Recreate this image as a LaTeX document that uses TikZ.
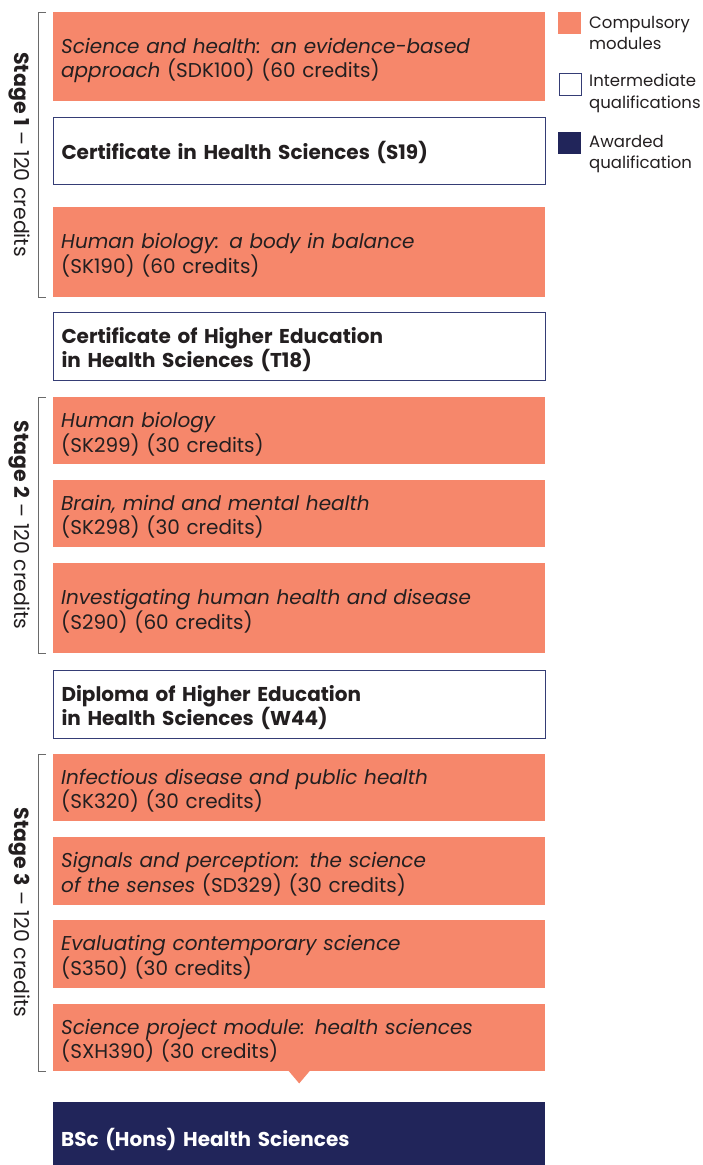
\documentclass[tikz,border=0pt]{standalone}
\usepackage{fontspec}
\setmainfont{Poppins}
\usetikzlibrary{calc}
\definecolor{modOrange}{HTML}{F6876B}
\definecolor{awardNavy}{HTML}{21255A}
\definecolor{qualEdge}{HTML}{353D75}
\definecolor{textDark}{HTML}{231F20}
\definecolor{bracketGrey}{HTML}{6A6A6A}

\begin{document}
\begin{tikzpicture}
[x=1pt,y=-1pt,
  boxDecorate/.style={anchor=north west,minimum width=492pt,text width=476pt,
    inner xsep=8pt,inner ysep=0pt,align=left,text=textDark,
    execute at begin node={\rule{0pt}{22pt}},
    font=\fontsize{20}{24}\selectfont},%
  moduleDecorate/.style={boxDecorate,fill=modOrange},%
  qualDecorate/.style={boxDecorate,draw=qualEdge,line width=1pt,fill=white,
    font=\fontsize{20}{24}\selectfont\bfseries},%
  awardDecorate/.style={boxDecorate,fill=awardNavy,text=white,
    font=\fontsize{20}{24}\selectfont\bfseries},%
  bracketDecorate/.style={draw=bracketGrey,line width=0.9pt},%
  keyDecorate/.style={anchor=north west,minimum width=23pt,minimum height=22pt,inner sep=0pt},%
  keyText/.style={anchor=west,align=left,inner sep=0pt,text=textDark,
    font=\fontsize{16.5}{21.5}\selectfont}]
\clip (0,0) rectangle (703,1165);
%% compulsory modules
\foreach \nodename/\y/\h/\txt in {
  sdk100/12/89/{\textit{Science and health: an evidence-based}\\\textit{approach} (SDK100) (60 credits)},
  sk190/207/90/{\textit{Human biology: a body in balance}\\(SK190) (60 credits)},
  sk299/397/67/{\textit{Human biology}\\(SK299) (30 credits)},
  sk298/480/67/{\textit{Brain, mind and mental health}\\(SK298) (30 credits)},
  s290/563/90/{\textit{Investigating human health and disease}\\(S290) (60 credits)},
  sk320/754/67/{\textit{Infectious disease and public health}\\(SK320) (30 credits)},
  sd329/837/68/{\textit{Signals and perception: the science}\\\textit{of the senses} (SD329) (30 credits)},
  s350/920/68/{\textit{Evaluating contemporary science}\\(S350) (30 credits)},
  sxh390/1004/67/{\textit{Science project module: health sciences}\\(SXH390) (30 credits)}}
{
  \node (\nodename) at (53,\y) [moduleDecorate,minimum height=\h pt] {\txt};
}
%% intermediate and awarded qualifications
\node (s19) at (53,117) [qualDecorate,minimum height=67pt] {Certificate in Health Sciences (S19)};
\node (t18) at (53,312) [qualDecorate,minimum height=68pt] {Certificate of Higher Education\\in Health Sciences (T18)};
\node (w44) at (53,670) [qualDecorate,minimum height=68pt] {Diploma of Higher Education\\in Health Sciences (W44)};
\node (bsc) at (53,1102) [awardDecorate,minimum height=70pt] {BSc (Hons) Health Sciences};
%% pointer into the award
\fill[modOrange] ($(sxh390.south)+(-11,-1)$) -- ($(sxh390.south)+(0,12)$)
  -- ($(sxh390.south)+(11,-1)$) -- cycle;
%% stage brackets
\foreach \first/\last/\stage in {sdk100/sk190/1, sk299/s290/2, sk320/sxh390/3}
{
  \draw[bracketDecorate] ($(\first.north west)+(-7,0)$) -| ($(\last.south west)+(-15,0)$)
    -- ++(8,0);
  \node (stage\stage) at ($(\first.north west)!0.5!(\last.south west)+(-34,0)$)
    [rotate=-90,text=textDark,font=\fontsize{20.5}{24}\selectfont]
    {\textbf{Stage \stage} -- 120 credits};
}
%% legend
\node (keyMod) at (558,12) [keyDecorate,fill=modOrange] {};
\node (keyQual) at (558.5,72.5) [keyDecorate,draw=qualEdge,line width=1pt,fill=white,
  minimum width=22pt,minimum height=22pt] {};
\node (keyAward) at (558,132) [keyDecorate,fill=awardNavy] {};
\node (keyModText) at (589,33) [keyText] {Compulsory\\modules};
\node (keyQualText) at (589,93.5) [keyText] {Intermediate\\qualifications};
\node (keyAwardText) at (589,154) [keyText] {Awarded\\qualification};
\end{tikzpicture}
\end{document}
